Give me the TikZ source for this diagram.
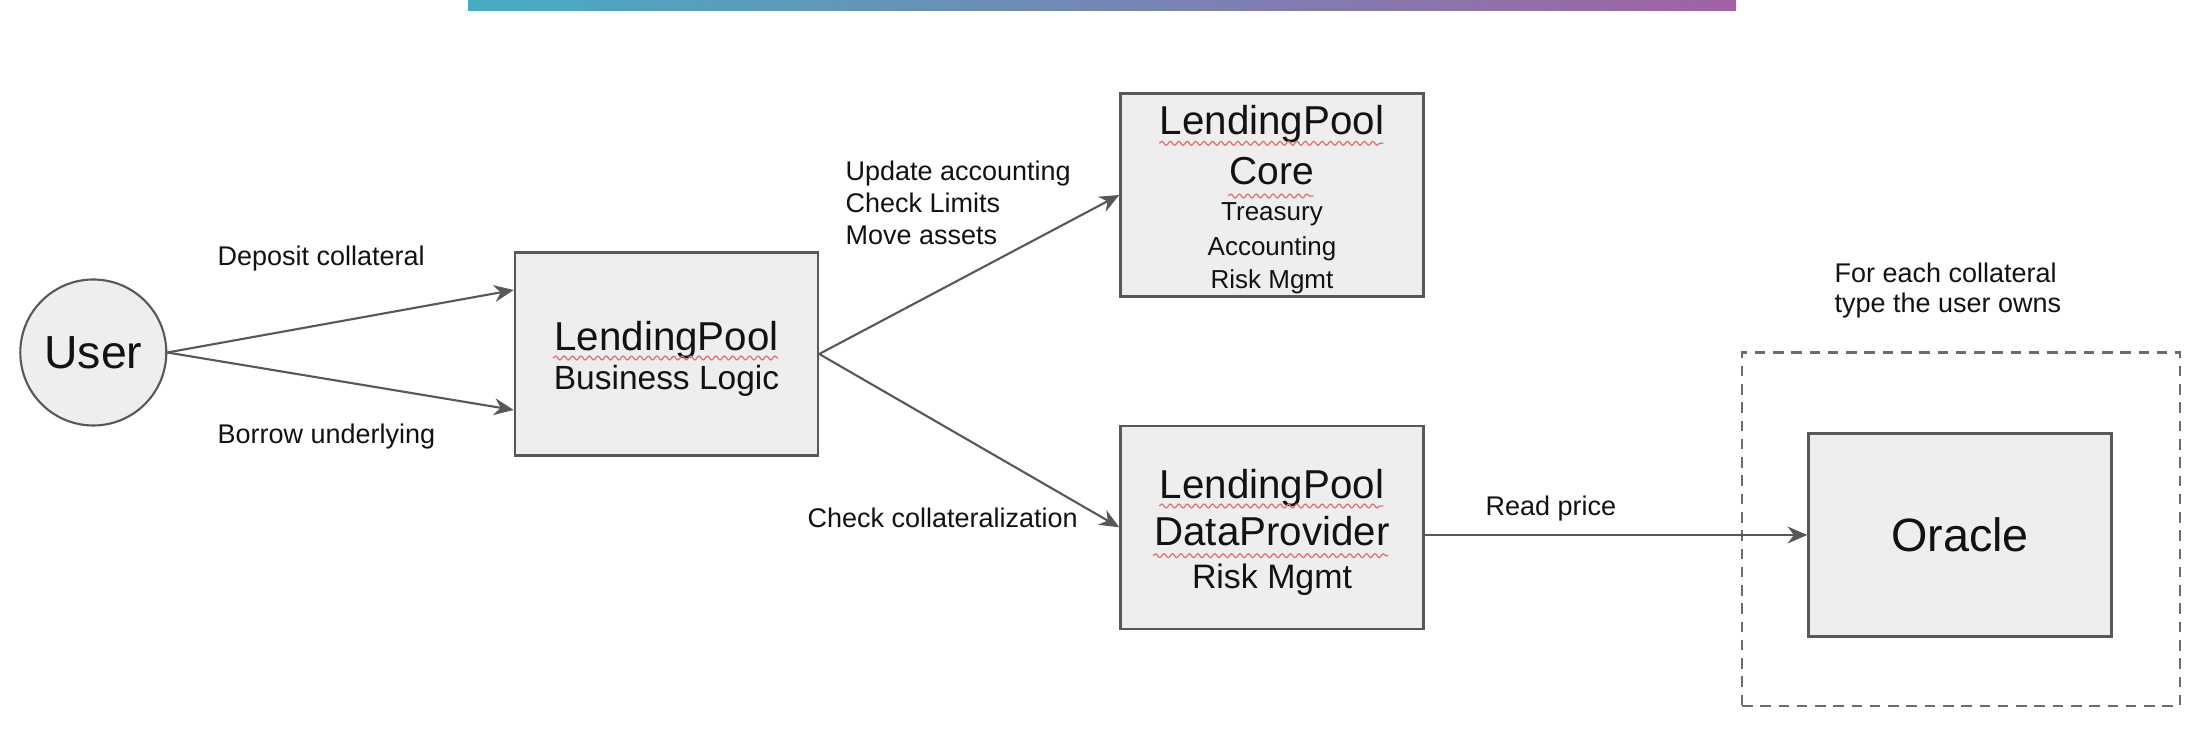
\documentclass[tikz,border=0pt]{standalone}
\usepackage{fontspec}
\setmainfont{Liberation Sans}
\usetikzlibrary{
  calc,
  positioning,
  arrows.meta,
  decorations.pathmorphing}

\definecolor{barteal}{RGB}{70,173,193}
\definecolor{barplum}{RGB}{161,98,166}
\definecolor{linegray}{RGB}{88,88,88}
\definecolor{dashgray}{RGB}{108,108,108}
\definecolor{boxfill}{RGB}{238,238,238}
\definecolor{inkblack}{RGB}{18,18,18}
\definecolor{spellred}{RGB}{226,110,110}

% invisible rule that pushes the first line of a box down
\newcommand{\capstrut}[1]{\rule{0pt}{#1}}

\tikzset{
  blockbox/.style={rectangle, draw=linegray, fill=boxfill, line width=0.7pt,
    minimum width=3.03cm, minimum height=2.03cm, inner sep=0pt,
    align=center, text=inkblack},
  flow/.style={draw=linegray, line width=0.6pt,
    -{Stealth[length=5.6pt,width=4.8pt,inset=1.8pt]}},
  lbl/.style={inner sep=0pt, text=inkblack,
    font=\fontsize{7.68pt}{9.2pt}\selectfont},
  squiggle/.style={draw=spellred, line width=0.35pt,
    decorate, decoration={snake, amplitude=0.55pt, segment length=2.4pt}}
}

\begin{document}
\begin{tikzpicture}
  \useasboundingbox (0,0) rectangle (22.04,7.30);

  % Title bar
  \shade[left color=barteal, right color=barplum]
    (4.68,7.19) rectangle (17.36,7.30);

  % User
  \node[circle, draw=linegray, fill=boxfill, line width=0.6pt,
    minimum size=1.46cm, inner sep=0pt, text=inkblack,
    font=\fontsize{13.2pt}{15pt}\selectfont] (user) at (0.933,3.775) {User};

  % Contracts
  \node[blockbox, font=\fontsize{9.53pt}{11.27pt}\selectfont]
    (logic) at (6.665,3.76)
    {\capstrut{11.1pt}{\fontsize{11.47pt}{11.27pt}\selectfont LendingPool}\\
     Business Logic};
  \node[blockbox, font=\fontsize{7.4pt}{9.3pt}\selectfont]
    (core) at (12.72,5.35)
    {\capstrut{10.9pt}{\fontsize{11.47pt}{9.3pt}\selectfont LendingPool}\\[3pt]
     {\fontsize{11.1pt}{9.3pt}\selectfont Core}\\[1.14pt]
     Treasury\\[0.66pt]Accounting\\Risk Mgmt};
  \node[blockbox, font=\fontsize{9.64pt}{12.32pt}\selectfont]
    (dp) at (12.72,2.027)
    {\capstrut{11.3pt}{\fontsize{11.47pt}{12.32pt}\selectfont LendingPool}\\[1.14pt]
     {\fontsize{11.47pt}{12.32pt}\selectfont DataProvider}\\Risk Mgmt};

  % Oracle, once per collateral
  \node[draw=dashgray, dash pattern=on 3pt off 2.2pt, line width=0.6pt,
    minimum width=4.38cm, minimum height=3.535cm, inner sep=0pt]
    (owned) at (19.61,2.0075) {};
  \node[blockbox, font=\fontsize{13.3pt}{15pt}\selectfont]
    (oracle) at (19.60,1.95) {Oracle};

  % Spell check marks
  \draw[squiggle] ([xshift=-1.135cm,yshift=-0.04cm]logic.center) --++ (2.25,0);
  \draw[squiggle] ([xshift=-1.127cm,yshift=0.517cm]core.center) --++ (2.24,0);
  \draw[squiggle] ([xshift=-0.437cm,yshift=-0.01cm]core.center) --++ (0.85,0);
  \draw[squiggle] ([xshift=-1.127cm,yshift=0.213cm]dp.center) --++ (2.24,0);
  \draw[squiggle] ([xshift=-1.19cm,yshift=-0.284cm]dp.center) --++ (2.35,0);

  % Calls
  \draw[flow] (user.east) -- ([yshift=0.64cm]logic.west);
  \draw[flow] (user.east) -- ([yshift=-0.56cm]logic.west);
  \draw[flow] (logic.east) -- (core.west);
  \draw[flow] (logic.east) -- (dp.west);
  \draw[flow] (dp.east |- oracle.west) -- (oracle.west);

  % Labels
  \node[lbl, anchor=base west] (deposit) at (2.17,4.64) {Deposit collateral};
  \node[lbl, anchor=base west] (borrow) at (2.17,2.86) {Borrow underlying};
  \node[lbl, anchor=north west, align=left] (updates) at (8.45,5.70)
    {Update accounting\\Check Limits\\Move assets};
  \node[lbl, anchor=base west] (checkcol) at (8.07,2.025) {Check collateralization};
  \node[lbl, anchor=base west] (readprice) at (14.85,2.143) {Read price};
  \node[lbl, anchor=north west, align=left,
    font=\fontsize{7.68pt}{8.54pt}\selectfont] (foreach) at (18.34,4.676)
    {For each collateral\\type the user owns};

\end{tikzpicture}
\end{document}
